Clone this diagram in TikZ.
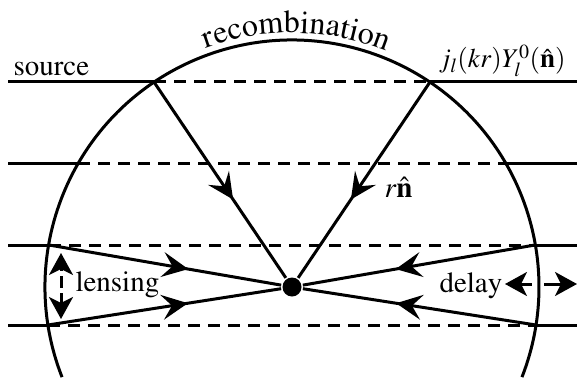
\documentclass[tikz,border=0pt]{standalone}
\usepackage[T1]{fontenc}
\usepackage{mathptmx}
\usetikzlibrary{arrows.meta,decorations.markings,decorations.text}

\begin{document}
\begin{tikzpicture}[x=1pt,y=-1pt,line width=3pt,
	font=\fontsize{29}{32}\selectfont,
	txt/.style={inner sep=0pt},
	dashline/.style={dash pattern=on 12pt off 8pt},
	ray/.style={postaction={decorate},decoration={markings,
		mark=at position 0.6 with {\arrow{Stealth[length=26pt,width=25pt,inset=10pt]}}}},
	twoway/.style={{Stealth[length=22pt,width=24pt,inset=6pt]}-{Stealth[length=22pt,width=24pt,inset=6pt]}}]
	\useasboundingbox (0,0) rectangle (577,377);
	% where the lines meet the sphere
	\coordinate (a1) at (154,82);  \coordinate (b1) at (430,82);
	\coordinate (a2) at (78,163);  \coordinate (b2) at (506,163);
	\coordinate (a3) at (49,245);  \coordinate (b3) at (535,245);
	\coordinate (a4) at (48,325);  \coordinate (b4) at (536,325);
	\foreach \i/\y in {1/82,2/163,3/245,4/325} {
		\coordinate (l\i) at (8,\y);
		\coordinate (r\i) at (577,\y);
		\draw (l\i) -- (a\i);
		\draw[dashline] (a\i) -- (b\i);
		\draw (b\i) -- (r\i);
	}
	\draw (292,287) ++(158.6:247) arc[start angle=158.6, end angle=381.4, radius=247];
	\path[decorate,decoration={text along path,text align=center,
		text={|\fontsize{32}{34}\selectfont|recombination}}]
		(292,287) ++(161:254) arc[start angle=161, end angle=381, radius=254];
	\node (o) at (292,287) [circle, fill, inner sep=0pt, minimum size=19pt] {};
	\draw[ray] (a1) -- (o);
	\draw[ray] (b1) -- (o);
	\draw[ray] (a3) -- (o);
	\draw[ray] (a4) -- (o);
	\draw[ray] (b3) -- (o);
	\draw[ray] (b4) -- (o);
	% lensing and delay
	\coordinate (lt) at (61,253); \coordinate (lb) at (61,319);
	\draw[twoway, dash pattern=on 3pt off 5pt on 12pt off 5pt on 20pt] (lt) -- (lb);
	\coordinate (dl) at (505,284); \coordinate (dr) at (577,284);
	\draw[twoway, dash pattern=on 12pt off 12pt on 30pt] (dl) -- (dr);
	\node (src) at (12,76) [txt, anchor=base west] {source};
	\node (jl) at (567,68) [txt, anchor=base east, font=\fontsize{27}{30}\selectfont] {$j_l(kr)Y_l^0(\hat{\mathbf{n}})$};
	\node (rn) at (383,197) [txt, anchor=base west] {$r\hat{\mathbf{n}}$};
	\node (lens) at (74,291) [txt, anchor=base west] {lensing};
	\node (dly) at (438,292) [txt, anchor=base west] {delay};
\end{tikzpicture}
\end{document}
